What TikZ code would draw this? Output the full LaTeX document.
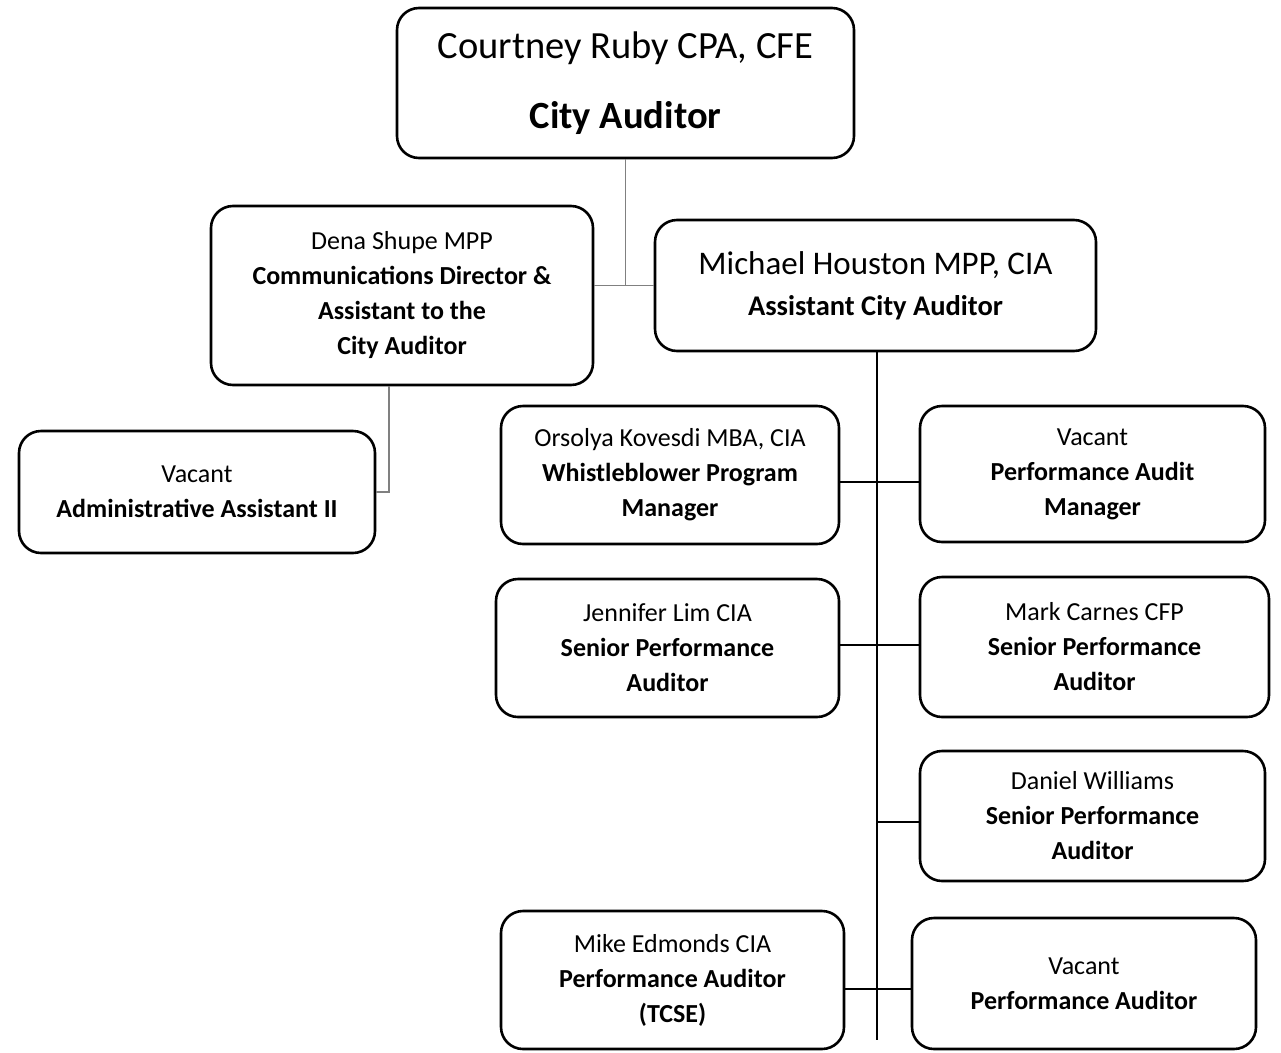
\documentclass[tikz,border=0pt]{standalone}
\usepackage{fontspec}
\setmainfont{Carlito}
\usetikzlibrary{positioning,calc}

\begin{document}
\begin{tikzpicture}[x=1pt, y=-1pt,
    box/.style={draw, line width=2.6pt, rounded corners=22pt, align=center,
      inner sep=0pt, font=\fontsize{26}{35}\selectfont,
      execute at begin node={\vspace*{6pt}}},
    link/.style={draw, line width=1.4pt},
    glink/.style={draw, gray, line width=1.8pt}]
  \useasboundingbox (0,0) rectangle (1281,1052);
  % top of the office
  \node[box, minimum width=457pt, minimum height=150pt, font=\fontsize{38.5}{70}\selectfont] (ca) at (625.5,83) {Courtney Ruby CPA, CFE\\\textbf{City Auditor}};
  \node[box, minimum width=382pt, minimum height=179pt] (dena) at (402,295.5) {Dena Shupe MPP\\\textbf{Communications Director \&}\\\textbf{Assistant to the}\\\textbf{City Auditor}};
  \node[box, minimum width=441pt, minimum height=131pt, font=\fontsize{33}{41}\selectfont] (ach) at (875.5,285.5) {Michael Houston MPP, CIA\\\fontsize{28.5}{41}\selectfont\textbf{Assistant City Auditor}};
  \node[box, minimum width=356pt, minimum height=122pt] (adm) at (197,492) {Vacant\\\textbf{Administrative Assistant II}};
  % audit staff
  \node[box, minimum width=338pt, minimum height=138pt] (wpm) at (670,475) {Orsolya Kovesdi MBA, CIA\\\textbf{Whistleblower Program}\\\textbf{Manager}};
  \node[box, minimum width=345pt, minimum height=136pt] (pam) at (1092.5,474) {Vacant\\\textbf{Performance Audit}\\\textbf{Manager}};
  \node[box, minimum width=343pt, minimum height=138pt] (jlim) at (667.5,648) {Jennifer Lim CIA\\\textbf{Senior Performance}\\\textbf{Auditor}};
  \node[box, minimum width=349pt, minimum height=140pt] (mcar) at (1094.5,647) {Mark Carnes CFP\\\textbf{Senior Performance}\\\textbf{Auditor}};
  \node[box, minimum width=345pt, minimum height=130pt] (dwil) at (1092.5,816) {Daniel Williams\\\textbf{Senior Performance}\\\textbf{Auditor}};
  \node[box, minimum width=343pt, minimum height=138pt] (medm) at (672.5,980) {Mike Edmonds CIA\\\textbf{Performance Auditor}\\\textbf{(TCSE)}};
  \node[box, minimum width=344pt, minimum height=131pt] (vpa) at (1084,983.5) {Vacant\\\textbf{Performance Auditor}};
  \coordinate (spine) at (877,1040);

  % reporting lines
  \path[glink] (ca.south) -- (ca.south |- ach.west);
  \path[glink] (dena.east |- ach.west) -- (ach.west);
  \path[glink] ([xshift=-13pt]dena.south) |- (adm.east);
  \path[link] (ach.south -| spine) -- (spine);
  \path[link] ([yshift=-7pt]wpm.east) -- ([yshift=-7pt]wpm.east -| pam.west);
  \path[link] ([yshift=3pt]jlim.east) -- ([yshift=3pt]jlim.east -| mcar.west);
  \path[link] ([yshift=-6pt]dwil.west -| spine) -- ([yshift=-6pt]dwil.west);
  \path[link] ([yshift=-9pt]medm.east) -- ([yshift=-9pt]medm.east -| vpa.west);
\end{tikzpicture}
\end{document}
